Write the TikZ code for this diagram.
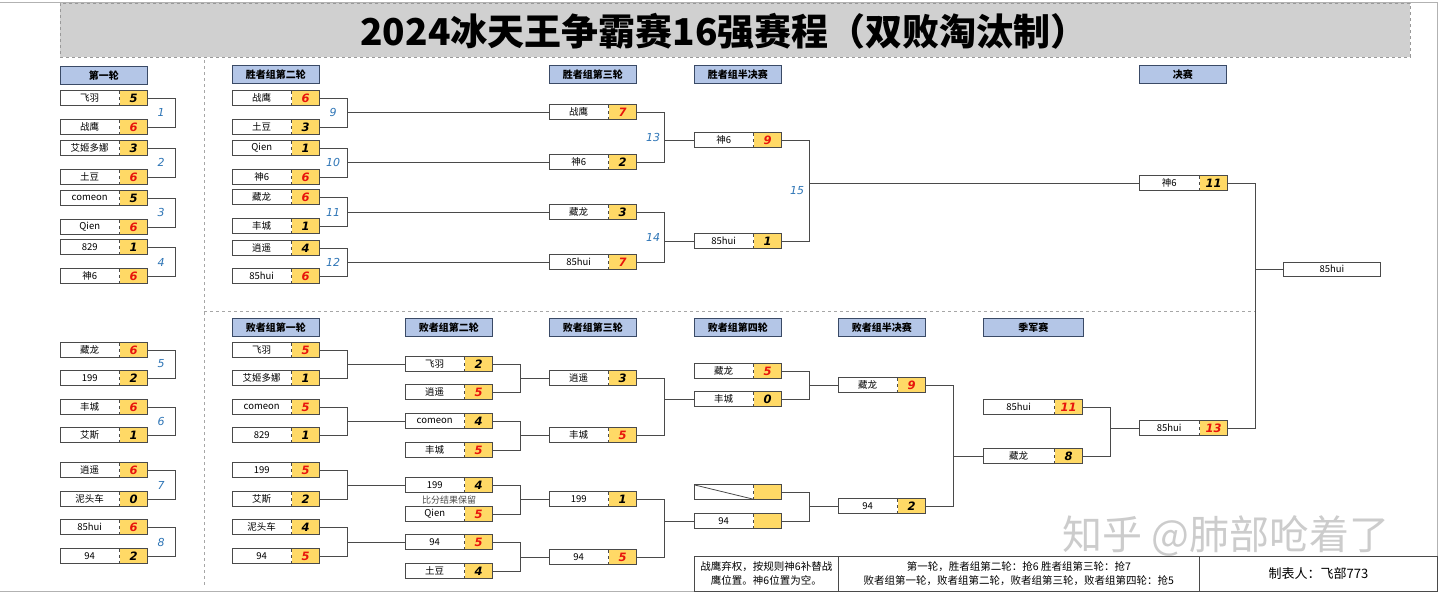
\documentclass[tikz,border=0pt]{standalone}
\usepackage{fontspec}
\setmainfont{Noto Sans CJK SC}
\newfontfamily\scorefont{DejaVu Sans}
\usepackage{xcolor}
\usepackage{tikz}
\usetikzlibrary{positioning}

\definecolor{hdrblue}{HTML}{B4C6E7}
\definecolor{hdrline}{HTML}{3A4A66}
\definecolor{scoreyel}{HTML}{FFD966}
\definecolor{scorered}{HTML}{E8140C}
\definecolor{numblue}{HTML}{2E75B6}
\definecolor{bandgray}{HTML}{D0D0D0}
\definecolor{cellgray}{HTML}{4A4A4A}

% one team slot: name cell + score cell
\newcommand{\teamslot}[6][59]{%
  \node[namecell,minimum width=#1,anchor=west] (#2) at (#3) {#4};
  \node[scorecell,anchor=west] (#2-s) at (#2.east) {\textcolor{#6}{#5}};
  \draw[cellline] (#2.north west) rectangle (#2-s.south east);
  \draw[celldiv] (#2-s.north west) -- (#2-s.south west);
}

\begin{document}
\begin{tikzpicture}[x=1pt,y=-1pt,
  namecell/.style={fill=white,inner sep=0pt,minimum height=14,
    font=\fontsize{9.5}{9.5}\selectfont},
  scorecell/.style={fill=scoreyel,inner sep=0pt,minimum height=14,minimum width=28,
    font=\scorefont\bfseries\itshape\fontsize{11.5}{11.5}\selectfont},
  cellline/.style={draw=cellgray,line width=0.8pt},
  celldiv/.style={draw=cellgray,dashed,line width=0.6pt},
  link/.style={draw=cellgray,line width=0.9pt},
  roundhdr/.style={draw=hdrline,fill=hdrblue,line width=0.8pt,inner sep=0pt,
    minimum width=87,minimum height=18,anchor=north west,
    font=\bfseries\fontsize{10}{10}\selectfont},
  matchno/.style={text=numblue,font=\scorefont\itshape\fontsize{11}{11}\selectfont},
  sepline/.style={draw=gray!70,dashed,line width=0.7pt},
  notebox/.style={draw=cellgray,line width=0.8pt,anchor=north west,inner sep=0pt,
    minimum height=35,align=center,font=\fontsize{10.5}{14}\selectfont}
]
\useasboundingbox (0,0) rectangle (1440,595);
\fill[white] (0,0) rectangle (1440,595);

% frame and title band
\draw[gray!60,line width=1pt] (0,2) -- (1437,2) -- (1437,591) -- (0,591);
\node[draw=gray!80,dashed,fill=bandgray,line width=0.7pt,minimum width=1350,
  minimum height=54,anchor=north west,inner sep=0pt] (band) at (60,3) {};
\node[font=\bfseries\fontsize{37}{37}\selectfont] (title) at (724,31)
  {2024冰天王争霸赛16强赛程（双败淘汰制）};

% separators
\draw[sepline] (204,60) -- (204,585);
\draw[sepline] (204,311) -- (1255,311);

% round headers
\node[roundhdr] (h1) at (60,66) {第一轮};
\node[roundhdr] (hw2) at (232,65) {胜者组第二轮};
\node[roundhdr] (hw3) at (549,65) {胜者组第三轮};
\node[roundhdr] (hwsf) at (694,65) {胜者组半决赛};
\node[roundhdr] (hf) at (1139,65) {决赛};
\node[roundhdr] (hl1) at (232,318) {败者组第一轮};
\node[roundhdr] (hl2) at (405,318) {败者组第二轮};
\node[roundhdr] (hl3) at (549,318) {败者组第三轮};
\node[roundhdr] (hl4) at (694,318) {败者组第四轮};
\node[roundhdr] (hlsf) at (838,318) {败者组半决赛};
\node[roundhdr,minimum width=100] (htp) at (983,318) {季军赛};

% first round
\teamslot{r1a}{60,98}{飞羽}{5}{black}
\teamslot{r1b}{60,127}{战鹰}{6}{scorered}
\teamslot{r1c}{60,148}{艾姬多娜}{3}{black}
\teamslot{r1d}{60,177}{土豆}{6}{scorered}
\teamslot{r1e}{60,198}{comeon}{5}{black}
\teamslot{r1f}{60,227}{Qien}{6}{scorered}
\teamslot{r1g}{60,247}{829}{1}{black}
\teamslot{r1h}{60,276}{神6}{6}{scorered}
\teamslot{r1i}{60,350}{藏龙}{6}{scorered}
\teamslot{r1j}{60,378}{199}{2}{black}
\teamslot{r1k}{60,407}{丰城}{6}{scorered}
\teamslot{r1l}{60,435}{艾斯}{1}{black}
\teamslot{r1m}{60,470}{逍遥}{6}{scorered}
\teamslot{r1n}{60,499}{泥头车}{0}{black}
\teamslot{r1o}{60,527}{85hui}{6}{scorered}
\teamslot{r1p}{60,556}{94}{2}{black}

% winners bracket
\teamslot{w2a}{232,98}{战鹰}{6}{scorered}
\teamslot{w2b}{232,127}{土豆}{3}{black}
\teamslot{w2c}{232,148}{Qien}{1}{black}
\teamslot{w2d}{232,177}{神6}{6}{scorered}
\teamslot{w2e}{232,197}{藏龙}{6}{scorered}
\teamslot{w2f}{232,226}{丰城}{1}{black}
\teamslot{w2g}{232,248}{逍遥}{4}{black}
\teamslot{w2h}{232,276}{85hui}{6}{scorered}
\teamslot{w3a}{549,112}{战鹰}{7}{scorered}
\teamslot{w3b}{549,162}{神6}{2}{black}
\teamslot{w3c}{549,212}{藏龙}{3}{black}
\teamslot{w3d}{549,262}{85hui}{7}{scorered}
\teamslot{wsfa}{694,140}{神6}{9}{scorered}
\teamslot{wsfb}{694,241}{85hui}{1}{black}
\teamslot[60]{fa}{1139,183}{神6}{11}{black}

% losers bracket
\teamslot{l1a}{232,350}{飞羽}{5}{scorered}
\teamslot{l1b}{232,378}{艾姬多娜}{1}{black}
\teamslot{l1c}{232,407}{comeon}{5}{scorered}
\teamslot{l1d}{232,435}{829}{1}{black}
\teamslot{l1e}{232,470}{199}{5}{scorered}
\teamslot{l1f}{232,499}{艾斯}{2}{black}
\teamslot{l1g}{232,527}{泥头车}{4}{black}
\teamslot{l1h}{232,556}{94}{5}{scorered}
\teamslot{l2a}{405,364}{飞羽}{2}{black}
\teamslot{l2b}{405,392}{逍遥}{5}{scorered}
\teamslot{l2c}{405,421}{comeon}{4}{black}
\teamslot{l2d}{405,450}{丰城}{5}{scorered}
\teamslot{l2e}{405,485}{199}{4}{black}
\teamslot{l2f}{405,514}{Qien}{5}{scorered}
\teamslot{l2g}{405,542}{94}{5}{scorered}
\teamslot{l2h}{405,571}{土豆}{4}{black}
\node[font=\fontsize{9}{9}\selectfont,text=cellgray] (keep) at (449,500) {比分结果保留};
\teamslot{l3a}{549,378}{逍遥}{3}{black}
\teamslot{l3b}{549,435}{丰城}{5}{scorered}
\teamslot{l3c}{549,499}{199}{1}{black}
\teamslot{l3d}{549,557}{94}{5}{scorered}
\teamslot{l4a}{694,371}{藏龙}{5}{scorered}
\teamslot{l4b}{694,399}{丰城}{0}{black}
\teamslot{l4c}{694,492}{}{}{black}
\draw[cellline] (l4c.north west) -- (l4c.south east);
\teamslot{l4d}{694,521}{94}{}{black}
\teamslot{lsfa}{838,385}{藏龙}{9}{scorered}
\teamslot{lsfb}{838,506}{94}{2}{black}
\teamslot[71]{tpa}{983,407}{85hui}{11}{scorered}
\teamslot[71]{tpb}{983,456}{藏龙}{8}{black}
\teamslot[60]{lf}{1139,428}{85hui}{13}{scorered}
\node[namecell,cellline,minimum width=97,anchor=west] (champ) at (1283,269) {85hui};

% first round brackets
\foreach \x/\y in {r1a/r1b,r1c/r1d,r1e/r1f,r1g/r1h,r1i/r1j,r1k/r1l,r1m/r1n,r1o/r1p}
  \draw[link] (\x-s.east) -- ++(28,0) |- (\y-s.east);

% brackets feeding the next round
\foreach \x/\y/\z in {w2a/w2b/w3a,w2c/w2d/w3b,w2e/w2f/w3c,w2g/w2h/w3d,
    w3a/w3b/wsfa,w3c/w3d/wsfb,wsfa/wsfb/fa,
    l1a/l1b/l2a,l1c/l1d/l2c,l1e/l1f/l2e,l1g/l1h/l2g,
    l2a/l2b/l3a,l2c/l2d/l3b,l2e/l2f/l3c,l2g/l2h/l3d,
    l3a/l3b/l4b,l3c/l3d/l4d,l4a/l4b/lsfa,l4c/l4d/lsfb,
    lsfa/lsfb/tpb,tpa/tpb/lf,fa/lf/champ}
  \draw[link] (\x-s.east) -- ++(28,0) coordinate (v) |- (\y-s.east) (v) |- (\z.west);

% match numbers
\foreach \n/\p in {1/{161,112},2/{161,162},3/{161,212},4/{161,262},
    5/{161,364},6/{161,421},7/{161,485},8/{161,542},
    9/{333,112},10/{333,162},11/{333,212},12/{333,262},
    13/{653,137},14/{653,237},15/{797,191}}
  \node[matchno] (m\n) at (\p) {\n};

% notes
\node[notebox,minimum width=144] (note1) at (694,556)
  {战鹰弃权，按规则神6补替战\\鹰位置。神6位置为空。};
\node[notebox,minimum width=361] (note2) at (838,556)
  {第一轮，胜者组第二轮：抢6 胜者组第三轮：抢7\\
   败者组第一轮，败者组第二轮，败者组第三轮，败者组第四轮：抢5};
\node[notebox,minimum width=238,font=\fontsize{13}{13}\selectfont] (note3) at (1199,556)
  {制表人：飞部773};

\node[text=gray!40,font=\fontsize{40}{40}\selectfont] (wm) at (1226,536)
  {知乎 @肺部呛着了};
\end{tikzpicture}
\end{document}
